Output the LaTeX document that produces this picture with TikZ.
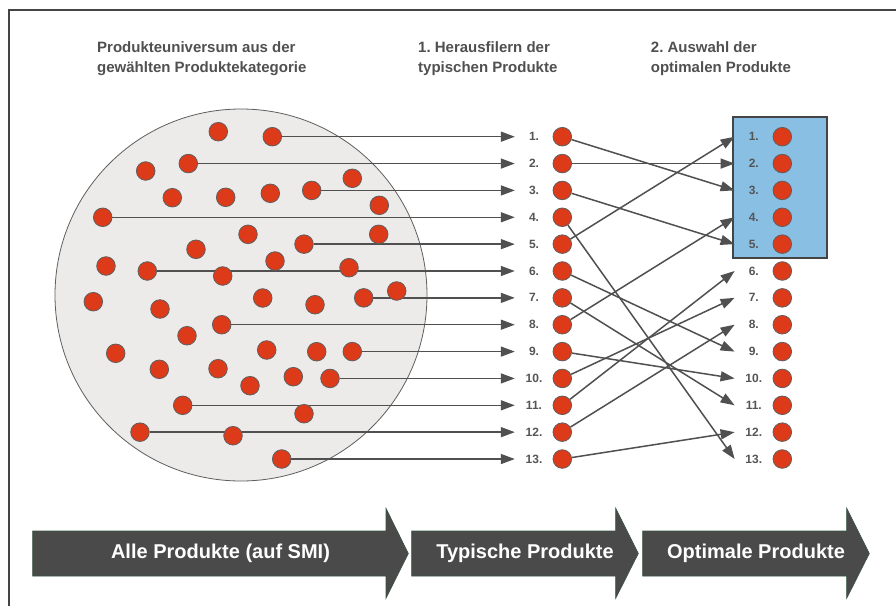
\documentclass[tikz,border=0pt]{standalone}
\usepackage{fontspec}
\setmainfont{Liberation Sans}
\frenchspacing
\usetikzlibrary{arrows.meta}
\definecolor{dotred}{RGB}{221,58,26}
\definecolor{dotedge}{RGB}{95,95,95}
\definecolor{linegrey}{RGB}{80,80,80}
\definecolor{headgrey}{RGB}{80,80,80}
\definecolor{labgrey}{RGB}{85,85,85}
\definecolor{circfill}{RGB}{236,235,233}
\definecolor{boxblue}{RGB}{136,191,227}
\definecolor{arrowfill}{RGB}{74,74,74}
\definecolor{arrowedge}{RGB}{55,85,65}
\definecolor{framegrey}{RGB}{68,68,68}
\pgfdeclarelayer{bg}
\pgfdeclarelayer{lines}
\pgfsetlayers{bg,lines,main}
\begin{document}
\begin{tikzpicture}[x=1pt,y=-1pt,
  dot/.style={circle, fill=dotred, draw=dotedge, line width=0.8pt, minimum size=18.6pt, inner sep=0pt},
  numlab/.style={font=\bfseries\fontsize{12}{12}\selectfont, text=labgrey, minimum width=38pt, inner sep=0pt},
  conn/.style={draw=linegrey, line width=1.5pt, -{Triangle[length=14pt,width=10pt]}},
  head/.style={anchor=north west, align=left, inner sep=0pt, font=\bfseries\fontsize{15}{20}\selectfont, text=headgrey},
  bigarrow/.style={fill=arrowfill, draw=arrowedge, line width=0.6pt},
  arrowtext/.style={font=\bfseries\fontsize{20}{20}\selectfont, text=white, inner sep=0pt},
  framestyle/.style={draw=framegrey, line width=2pt}
]
\useasboundingbox (0,0) rectangle (896,605);

% universe circle and selection box
\begin{pgfonlayer}{bg}
\fill[white] (0,0) rectangle (896,605);
\draw[fill=circfill, draw=dotedge, line width=0.8pt] (241,295) circle[radius=186];
\draw[fill=boxblue, draw=framegrey, line width=1.8pt] (733.3,116.7) rectangle (826.7,258.3);
\end{pgfonlayer}
\draw[framestyle] (9,606) -- (9,10) -- (897,10);

% headings
\node[head] (h1) at (97,41) {Produkteuniversum aus der\\gewählten Produktekategorie};
\node[head] (h2) at (418,41) {1. Herausfilern der\\typischen Produkte};
\node[head] (h3) at (650.7,41) {2. Auswahl der\\optimalen Produkte};

% columns
\foreach \i in {1,...,13}{
  \pgfmathsetmacro\ry{136.7+(\i-1)*26.86}
  \node[numlab] (l1-\i) at (534,\ry) {\i.};
  \node[dot] (c1-\i) at (562.3,\ry) {};
  \node[numlab] (l2-\i) at (753.8,\ry) {\i.};
  \node[dot] (c2-\i) at (782.3,\ry) {};
}

% connected dots in the universe
\foreach \i/\x in {1/272.3,2/188.3,3/311.7,4/102.7,5/304,6/147.3,7/363.7,8/221.7,9/352.3,10/330,11/182.7,12/140,13/281.7}{
  \pgfmathsetmacro\ry{136.7+(\i-1)*26.86}
  \node[dot] (u\i) at (\x,\ry) {};
}

% other dots
\foreach \x/\y [count=\k] in {218.3/131.7,145.7/171,352.3/178.3,172.3/197.7,225.7/197.3,270.3/193.3,379.3/205.3,248/234.3,196/249.3,378.7/234.3,275/261,106/266,222.7/276,349/267.7,396.7/291,93.3/301.7,262.7/298,315/304.7,160/309,187/335.7,115.7/353.3,159.3/369.3,218/368.7,266.7/350,316.7/351.7,250/385.7,293.3/376.7,304/413.7,233/435.7}{
  \node[dot] (o\k) at (\x,\y) {};
}

% connectors
\begin{pgfonlayer}{lines}
\foreach \i in {1,...,13}{
  \draw[conn] (u\i) -- (l1-\i.west);
}
\foreach \a/\b in {1/3,2/2,3/5,4/13,5/1,6/9,7/11,8/4,9/10,10/7,11/6,12/8,13/12}{
  \draw[conn] (c1-\a) -- (l2-\b.west);
}
\end{pgfonlayer}

% bottom process arrows
\draw[bigarrow] (32.7,531) -- (386,531) -- (386,508.3) -- (408.3,553.5) -- (386,598.3) -- (386,576) -- (32.7,576) -- cycle;
\node[arrowtext] (a1) at (220.5,553.5) {Alle Produkte (auf SMI)};
\draw[bigarrow] (411.7,531) -- (615.7,531) -- (615.7,508.3) -- (638.3,553.5) -- (615.7,598.3) -- (615.7,576) -- (411.7,576) -- cycle;
\node[arrowtext] (a2) at (525,553.5) {Typische Produkte};
\draw[bigarrow] (642.7,531) -- (846.7,531) -- (846.7,508.3) -- (869.3,553.5) -- (846.7,598.3) -- (846.7,576) -- (642.7,576) -- cycle;
\node[arrowtext] (a3) at (756,553.5) {Optimale Produkte};
\end{tikzpicture}
\end{document}
